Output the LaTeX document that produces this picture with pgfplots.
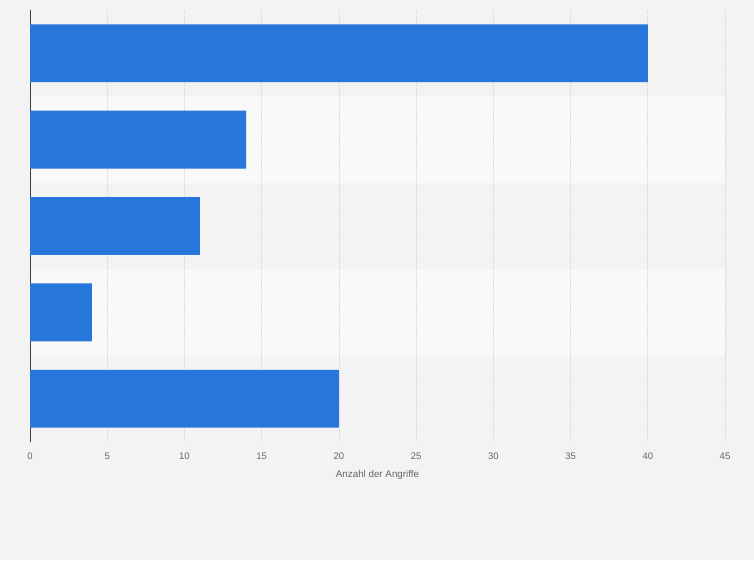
\documentclass[border=0pt]{standalone}
\usepackage{pgfplots}
\pgfplotsset{compat=1.18}
\usepackage{fontspec}
\setmainfont{Liberation Sans}
\definecolor{pagebg}{HTML}{F3F3F3}
\definecolor{bandlight}{HTML}{F9F9F9}
\definecolor{barblue}{HTML}{2776DB}
\definecolor{gridc}{HTML}{D9D9D9}
\definecolor{txt}{HTML}{666666}
\begin{document}
\begin{tikzpicture}
\begin{axis}[
  scale only axis, width=695pt, height=432pt,
  set layers,
  xmin=0, xmax=45, ymin=-0.5, ymax=4.5,
  y dir=reverse,
  xbar, bar width=0.67,
  xtick={0,5,...,45}, ytick=\empty,
  xmajorgrids, major grid style={gridc, dash pattern=on 2pt off 1pt, line width=0.7pt},
  axis lines*=left,
  x axis line style={draw=none},
  y axis line style={draw=black!75, line width=0.8pt, -},
  major tick length=0pt,
  xticklabel style={font=\fontsize{9.5}{10}\selectfont, text=txt, yshift=-7pt},
  xlabel={Anzahl der Angriffe},
  xlabel style={font=\fontsize{9.8}{11}\selectfont, text=txt, yshift=-4pt},
  /pgf/number format/assume math mode=true,
  clip=false,
]
\begin{pgfonlayer}{axis background}
\fill[pagebg] (axis description cs:-0.043165,-0.273148) rectangle (axis description cs:1.041727,1.023148);
\fill[bandlight] (axis cs:0,0.5) rectangle (axis cs:45,1.5);
\fill[bandlight] (axis cs:0,2.5) rectangle (axis cs:45,3.5);
\end{pgfonlayer}
\addplot[fill=barblue, draw=none] coordinates {(40,0) (14,1) (11,2) (4,3) (20,4)};
\end{axis}
\end{tikzpicture}
\end{document}
